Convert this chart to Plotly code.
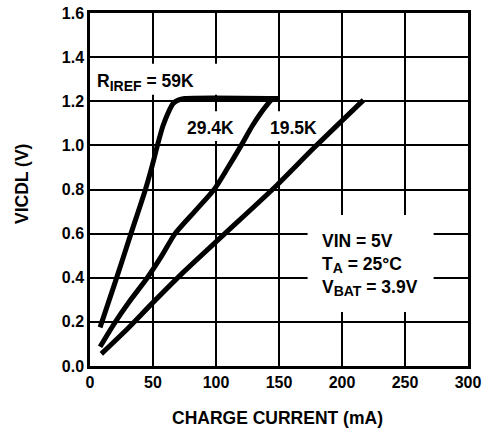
import plotly.graph_objects as go

# ---- data ----
x_59k = [8, 20, 32.5, 44, 49, 53.5, 58, 63, 66, 70, 75, 150]
y_59k = [0.175, 0.38, 0.6, 0.8, 0.9, 1.0, 1.09, 1.16, 1.19, 1.205, 1.212, 1.212]

x_29k = [8, 19, 31, 45.5, 57, 67.5, 83, 98.5, 109, 120, 129, 140, 145, 150]
y_29k = [0.087, 0.19, 0.29, 0.4, 0.5, 0.6, 0.7, 0.8, 0.895, 1.0, 1.09, 1.18, 1.21, 1.21]

x_19k = [9, 30, 49.5, 75, 107, 147.5, 178, 217]
y_19k = [0.055, 0.17, 0.285, 0.43, 0.6, 0.815, 0.99, 1.205]

x_range = [0, 300]
x_step = 50
y_range = [0, 1.6]
y_step = 0.2

SUB = '<sub><span style="font-size:14px">{}</span></sub>'
label_59k = "R" + SUB.format("IREF") + " = 59K"
label_29k = "29.4K"
label_19k = "19.5K"
cond_text = ("VIN = 5V<br>T" + SUB.format("A") + " = 25°C<br>V" + SUB.format("BAT") + " = 3.9V")
x_title = "CHARGE CURRENT (mA)"
y_title = "VICDL (V)"

FONT = "Arial, 'Liberation Sans', sans-serif"

fig = go.Figure()
for xs, ys in [(x_59k, y_59k), (x_29k, y_29k), (x_19k, y_19k)]:
    fig.add_trace(go.Scatter(x=xs, y=ys, mode="lines",
                             line=dict(color="black", width=5, shape="spline", smoothing=0.7),
                             showlegend=False, hoverinfo="skip"))

# white gaps in the grid behind labels
for x0, x1, y0, y1 in [(1, 102, 1.23, 1.37), (73, 118, 1.02, 1.155),
                       (141, 176, 1.02, 1.155), (172.7, 272.7, 0.245, 0.684)]:
    fig.add_shape(type="rect", xref="x", yref="y", x0=x0, x1=x1, y0=y0, y1=y1,
                  fillcolor="white", line=dict(width=0), layer="above")

ann_font = dict(family=FONT, size=17.5, color="black", weight="bold")
fig.add_annotation(x=3.9, y=1.285, text=label_59k, showarrow=False,
                   xanchor="left", yanchor="middle", font=ann_font)
fig.add_annotation(x=95.8, y=1.079, text=label_29k, showarrow=False,
                   xanchor="center", yanchor="middle", font=ann_font)
fig.add_annotation(x=161.7, y=1.079, text=label_19k, showarrow=False,
                   xanchor="center", yanchor="middle", font=ann_font)
fig.add_annotation(x=182.8, y=0.456, text=cond_text, showarrow=False, align="left",
                   xanchor="left", yanchor="middle", font=ann_font)

# axis titles
fig.add_annotation(xref="paper", yref="paper", x=0.497, y=-0.146, text=x_title,
                   showarrow=False, xanchor="center", yanchor="middle",
                   font=dict(family=FONT, size=17.5, color="black", weight="bold"))
fig.add_annotation(xref="paper", yref="paper", x=-0.18, y=0.5156, text=y_title,
                   showarrow=False, xanchor="center", yanchor="middle", textangle=-90,
                   font=dict(family=FONT, size=17.5, color="black", weight="bold"))

tick_font = dict(family=FONT, size=16, color="black", weight="bold")
fig.update_layout(
    template="none",
    width=498, height=432, margin=dict(l=90, r=30, t=13, b=66, autoexpand=False),
    paper_bgcolor="white", plot_bgcolor="white",
    font=dict(family=FONT, color="black"),
    xaxis=dict(range=x_range, tick0=0, dtick=x_step, showgrid=True, gridcolor="#000000",
               gridwidth=2, zeroline=False, showline=True, linecolor="#000000", linewidth=2.5,
               mirror=True, ticks="", tickfont=tick_font, automargin=False, fixedrange=True),
    yaxis=dict(range=y_range, tick0=0, dtick=y_step, tickformat=".1f", showgrid=True,
               gridcolor="#000000", gridwidth=2, zeroline=False, showline=True,
               linecolor="#000000", linewidth=2.5, mirror=True, ticks="", tickfont=tick_font,
               automargin=False, fixedrange=True),
)

fig.write_html("out.html", config={"displayModeBar": False},
               post_script="document.body.style.margin='0px';")
